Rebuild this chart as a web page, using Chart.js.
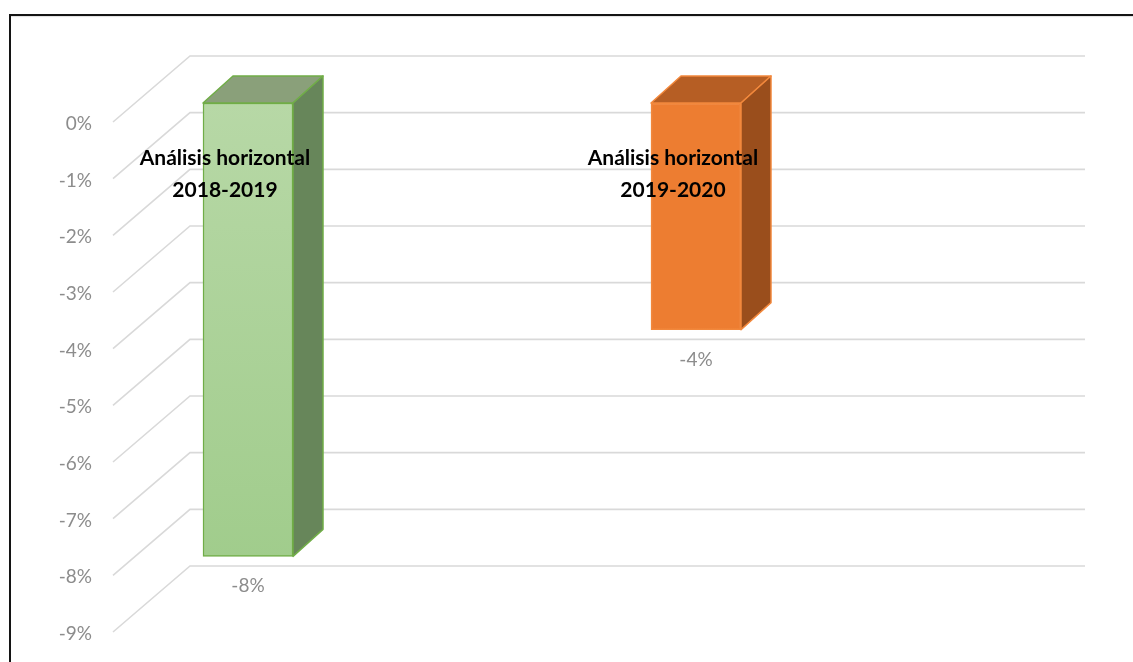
<!DOCTYPE html>
<html>
<head>
<meta charset="utf-8">
<script src="https://cdn.jsdelivr.net/npm/chart.js@4/dist/chart.umd.min.js"></script>
<style>
  html, body { margin: 0; padding: 0; background: #fff; overflow: hidden; }
  #wrap { position: relative; width: 1133px; height: 662px; }
  canvas { display: block; }
  #frame {
    position: absolute; left: 9px; top: 14px; width: 1140px; height: 660px;
    border-top: 2.5px solid #141414; border-left: 2.5px solid #141414;
    box-shadow: inset 0 2px 1px -1px #e2e2e2;
    pointer-events: none;
  }
</style>
</head>
<body>
<div id="wrap">
  <canvas id="chart" width="1133" height="662"></canvas>
  <div id="frame"></div>
</div>
<script>
// Series names (two lines each) and their horizontal-analysis variation
const seriesNames = [
  ['Análisis horizontal', '2018-2019'],
  ['Análisis horizontal', '2019-2020']
];
const variation = [-0.08, -0.04];

// Value axis
const axisMin = -0.09;
const axisMax = 0;
const axisStep = 0.01;

// Bar faces: front gradient (top, bottom), top face, side face, edge
const frontColors = [['#b7d8a6', '#9ecb89'], ['#ed7d31', '#ed7d31']];
const topColors = ['#8aa07a', '#b65e24'];
const sideColors = ['#67865a', '#9a4e1c'];
const edgeColors = ['#70ad47', '#f2883c'];

// 3D geometry (pixels)
const WALL = { frontX: 113, backX: 190, rightX: 1085, frontDy: 19, backDy: -47 };
const BAR_DEPTH = { dx: 30, dy: -27 };
const NAME_OFFSET = { dx: -23, line1: 55, line2: 87 };

const pct = v => Math.round(v * 100) + '%';

const depthPlugin = {
  id: 'depth3d',
  beforeDatasetsDraw(chart) {
    const ys = chart.scales.y;
    const ctx = chart.ctx;
    ctx.save();
    ctx.strokeStyle = '#d9d9d9';
    ctx.lineWidth = 1.6;
    ys.ticks.forEach(t => {
      const p = ys.getPixelForValue(t.value);
      ctx.beginPath();
      ctx.moveTo(WALL.frontX, p + WALL.frontDy);
      ctx.lineTo(WALL.backX, p + WALL.backDy);
      ctx.lineTo(WALL.rightX, p + WALL.backDy);
      ctx.stroke();
    });
    ctx.restore();
  },
  afterDatasetsDraw(chart) {
    const ctx = chart.ctx;
    const meta = chart.getDatasetMeta(0);
    const ys = chart.scales.y;
    const zero = ys.getPixelForValue(0);
    meta.data.forEach((bar, i) => {
      const { x, y, base, width } = bar.getProps(['x', 'y', 'base', 'width'], true);
      const l = x - width / 2, r = x + width / 2;
      const top = Math.min(y, base), bot = Math.max(y, base);
      const dx = BAR_DEPTH.dx, dy = BAR_DEPTH.dy;
      ctx.save();
      ctx.lineJoin = 'round';
      ctx.lineWidth = 1.5;
      ctx.strokeStyle = edgeColors[i];
      // top face
      ctx.beginPath();
      ctx.moveTo(l, top); ctx.lineTo(r, top);
      ctx.lineTo(r + dx, top + dy); ctx.lineTo(l + dx, top + dy);
      ctx.closePath();
      ctx.fillStyle = topColors[i];
      ctx.fill(); ctx.stroke();
      // side face
      ctx.beginPath();
      ctx.moveTo(r, top); ctx.lineTo(r + dx, top + dy);
      ctx.lineTo(r + dx, bot + dy); ctx.lineTo(r, bot);
      ctx.closePath();
      ctx.fillStyle = sideColors[i];
      ctx.fill(); ctx.stroke();
      ctx.restore();

      // series name
      ctx.save();
      ctx.fillStyle = '#000';
      ctx.font = 'bold 21px Lato';
      ctx.textAlign = 'center';
      ctx.textBaseline = 'middle';
      const names = seriesNames[i];
      ctx.fillText(names[0], x + NAME_OFFSET.dx, zero + NAME_OFFSET.line1);
      ctx.fillText(names[1], x + NAME_OFFSET.dx, zero + NAME_OFFSET.line2);
      // value
      ctx.fillStyle = '#8c8c8c';
      ctx.font = '19px Lato';
      ctx.fillText(pct(variation[i]), x, bot + 30);
      ctx.restore();
    });
  }
};

const ctx = document.getElementById('chart').getContext('2d');
new Chart(ctx, {
  type: 'bar',
  data: {
    labels: seriesNames.map(n => n.join(' ')),
    datasets: [{
      data: variation,
      clip: false,
      barThickness: 90,
      borderWidth: 1.5,
      borderSkipped: false,
      borderColor: edgeColors,
      backgroundColor: (c) => {
        const i = c.dataIndex;
        const area = c.chart.chartArea;
        if (!area) return frontColors[i][0];
        const g = c.chart.ctx.createLinearGradient(0, area.top, 0, area.bottom);
        g.addColorStop(0, frontColors[i][0]);
        g.addColorStop(1, frontColors[i][1]);
        return g;
      }
    }]
  },
  options: {
    responsive: false,
    animation: false,
    events: [],
    layout: { padding: { left: 0, right: 437, top: 103, bottom: 49 } },
    plugins: { legend: { display: false }, tooltip: { enabled: false } },
    scales: {
      x: { display: false, offset: false },
      y: {
        min: axisMin,
        max: axisMax,
        afterFit: (s) => { s.width = 248; s.paddingTop = 0; s.paddingBottom = 0; },
        grid: { display: false, drawTicks: false },
        border: { display: false },
        ticks: {
          stepSize: axisStep,
          padding: 156,
          labelOffset: 21,
          color: '#8c8c8c',
          font: { family: 'Lato', size: 19 },
          callback: (v) => pct(v)
        }
      }
    }
  },
  plugins: [depthPlugin]
});
</script>
</body>
</html>
